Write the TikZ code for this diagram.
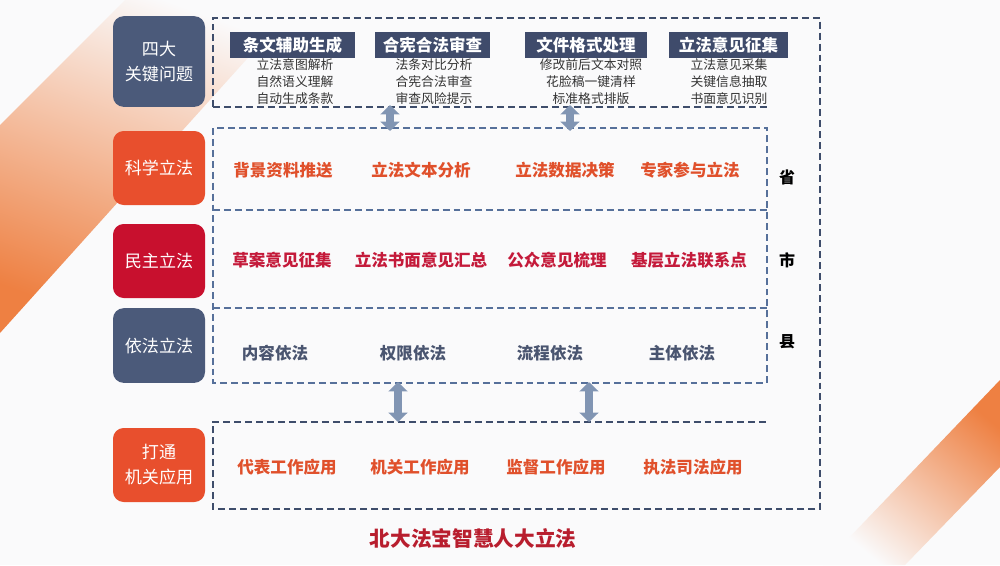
\documentclass[tikz,border=0pt]{standalone}
\usepackage{fontspec}
\newfontfamily\cjk{Noto Sans CJK SC}
\usetikzlibrary{arrows.meta}
\definecolor{slate}{HTML}{4B5A7A}
\definecolor{orng}{HTML}{E84F2D}
\definecolor{crim}{HTML}{C8102E}
\definecolor{hdr}{HTML}{3F4B6B}
\definecolor{dashA}{HTML}{3E4D6B}
\definecolor{dashB}{HTML}{56709A}
\definecolor{arrc}{HTML}{8195B3}
\definecolor{bandor}{HTML}{EE8042}
\definecolor{bg}{HTML}{FAFAFB}
\definecolor{txtor}{HTML}{E0502B}
\definecolor{txtcr}{HTML}{C41A3A}
\definecolor{txtsl}{HTML}{4A5570}
\definecolor{ttl}{HTML}{B81E2E}
\definecolor{subtxt}{HTML}{333333}
\begin{document}
\begin{tikzpicture}[x=0.75pt,y=-0.75pt,
  lbox/.style={rounded corners=8pt, minimum width=69pt, text=white, align=center, inner sep=0pt,
    font=\cjk\fontsize{12.8}{18.75}\selectfont},
  hbox/.style={fill=hdr, text=white, inner sep=0pt, minimum height=19.5pt,
    font=\cjk\bfseries\fontsize{12.4}{14}\selectfont},
  subitems/.style={text=subtxt, align=center, inner sep=0pt,
    font=\cjk\fontsize{9.6}{12.75}\selectfont},
  ritem/.style={inner sep=0pt, font=\cjk\bfseries\fontsize{12.4}{14}\selectfont},
  lvl/.style={inner sep=0pt, text=black, font=\cjk\bfseries\fontsize{12}{14}\selectfont},
  dlA/.style={draw=dashA, line width=1.35pt, dash pattern=on 5.2pt off 3pt},
  dlB/.style={draw=dashB, line width=1.35pt, dash pattern=on 5.2pt off 3pt},
  dbl/.style={draw=arrc, line width=5.5pt, {Triangle[width=14pt,length=7pt]}-{Triangle[width=14pt,length=7pt]}}
]
\useasboundingbox (0,0) rectangle (1000,565);
\fill[bg] (0,0) rectangle (1000,565);
% background bands
\shade[top color=bg, middle color=bandor!30!bg, bottom color=bandor, shading angle=-20] (0,125) -- (125,0) -- (300,0) -- (0,333) -- cycle;
\shade[top color=bandor, middle color=bandor!30!bg, bottom color=bg, shading angle=-40] (1000,380) -- (1000,467) -- (905,565) -- (823,565) -- cycle;

% frame coordinates
\coordinate (tbl) at (213,107);
\coordinate (ttl) at (213,18);
\coordinate (otr) at (820,18);
\coordinate (obr) at (820,509);
\coordinate (obl) at (213,509);
\coordinate (btl) at (213,422);
\coordinate (btr) at (767,422);
\coordinate (tbr) at (767,107);
\coordinate (mtl) at (213,128);
\coordinate (mbr) at (767,383);
\coordinate (d1l) at (213,210);
\coordinate (d1r) at (767,210);
\coordinate (d2l) at (213,308);
\coordinate (d2r) at (767,308);

\draw[dlA] (tbl) -- (ttl) -- (otr) -- (obr) -- (obl) -- (btl) -- (btr);
\draw[dlA] (tbl) -- (tbr);
\draw[dlB] (mtl) rectangle (mbr);
\draw[dlB] (d1l) -- (d1r);
\draw[dlB] (d2l) -- (d2r);

% left labels
\node[lbox, fill=slate, minimum height=68pt] (q4) at (159,61.5) {四大\\关键问题};
\node[lbox, fill=orng, minimum height=55.5pt] (kx) at (159,168) {科学立法};
\node[lbox, fill=crim, minimum height=55.5pt] (mz) at (159,261) {民主立法};
\node[lbox, fill=slate, minimum height=56pt] (yf) at (159,345.5) {依法立法};
\node[lbox, fill=orng, minimum height=55.5pt] (dt) at (159,465) {打通\\机关应用};

% headers
\node[hbox, minimum width=93.75pt] (h1) at (292.5,45) {条文辅助生成};
\node[hbox, minimum width=86.25pt] (h2) at (432.5,45) {合宪合法审查};
\node[hbox, minimum width=91.5pt] (h3) at (586,45) {文件格式处理};
\node[hbox, minimum width=89.25pt] (h4) at (728.5,45) {立法意见征集};
\node[subitems] (s1) at (295,82) {立法意图解析\\自然语义理解\\自动生成条款};
\node[subitems] (s2) at (434,82) {法条对比分析\\合宪合法审查\\审查风险提示};
\node[subitems] (s3) at (591,82) {修改前后文本对照\\花脸稿一键清样\\标准格式排版};
\node[subitems] (s4) at (729,82) {立法意见采集\\关键信息抽取\\书面意见识别};

% row items
\node[ritem, text=txtor] (r11) at (283,170) {背景资料推送};
\node[ritem, text=txtor] (r12) at (421,170) {立法文本分析};
\node[ritem, text=txtor] (r13) at (565,170) {立法数据决策};
\node[ritem, text=txtor] (r14) at (690,170) {专家参与立法};

\node[ritem, text=txtcr] (r21) at (282,260) {草案意见征集};
\node[ritem, text=txtcr] (r22) at (421,260) {立法书面意见汇总};
\node[ritem, text=txtcr] (r23) at (557,260) {公众意见梳理};
\node[ritem, text=txtcr] (r24) at (689,260) {基层立法联系点};

\node[ritem, text=txtsl] (r31) at (275,353) {内容依法};
\node[ritem, text=txtsl] (r32) at (413,353) {权限依法};
\node[ritem, text=txtsl] (r33) at (550,353) {流程依法};
\node[ritem, text=txtsl] (r34) at (682,353) {主体依法};

\node[ritem, text=txtor] (r41) at (287,467) {代表工作应用};
\node[ritem, text=txtor] (r42) at (420,467) {机关工作应用};
\node[ritem, text=txtor] (r43) at (556,467) {监督工作应用};
\node[ritem, text=txtor] (r44) at (693,467) {执法司法应用};

% levels
\node[lvl] (sheng) at (787,177) {省};
\node[lvl] (shi) at (787,260) {市};
\node[lvl] (xian) at (787,342) {县};

% title
\node[inner sep=0pt, text=ttl, font=\cjk\bfseries\fontsize{15.5}{18}\selectfont] (title) at (473,538) {北大法宝智慧人大立法};

% arrows
\coordinate (a1s) at (390,105);
\coordinate (a1e) at (390,131);
\coordinate (a2s) at (570,105);
\coordinate (a2e) at (570,131);
\coordinate (a3s) at (398,382);
\coordinate (a3e) at (398,422);
\coordinate (a4s) at (589,382);
\coordinate (a4e) at (589,422);
\draw[dbl] (a1s) -- (a1e);
\draw[dbl] (a2s) -- (a2e);
\draw[dbl] (a3s) -- (a3e);
\draw[dbl] (a4s) -- (a4e);
\end{tikzpicture}
\end{document}
